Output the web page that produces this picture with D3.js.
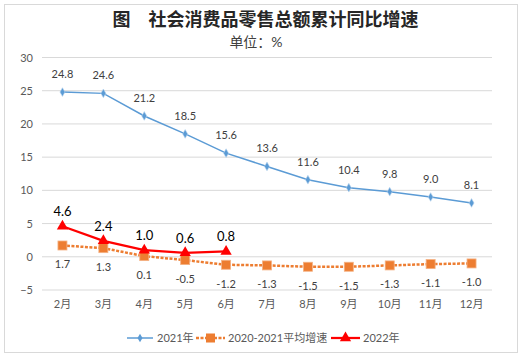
<!DOCTYPE html>
<html><head><meta charset="utf-8">
<script src="https://cdn.jsdelivr.net/npm/d3@7/dist/d3.min.js"></script>
<style>
body{margin:0;background:#fff;}
text{font-family:Lato,"Noto Sans CJK SC",sans-serif;}
</style></head>
<body><svg id="c" width="522" height="356"></svg>
<script>
const months = ["2月","3月","4月","5月","6月","7月","8月","9月","10月","11月","12月"];
const s2021 = [24.8,24.6,21.2,18.5,15.6,13.6,11.6,10.4,9.8,9.0,8.1];
const sAvg = [1.7,1.3,0.1,-0.5,-1.2,-1.3,-1.5,-1.5,-1.3,-1.1,-1.0];
const s2022 = [4.6,2.4,1.0,0.6,0.8];
const yTicks = [-5,0,5,10,15,20,25,30];
const seriesNames = ["2021年","2020-2021平均增速","2022年"];
const titleText = "图　社会消费品零售总额累计同比增速";
const unitText = "单位：%";

const svg = d3.select("#c");
svg.append("rect").attr("x",4.5).attr("y",4.5).attr("width",513).attr("height",348)
  .attr("fill","#fff").attr("stroke","#d9d9d9");

const x = d3.scaleBand().domain(months).range([42,492]);
const y = d3.scaleLinear().domain([-5,30]).range([290,57.5]);
const cx = m => x(m)+x.bandwidth()/2;

// gridlines
svg.append("g").selectAll("line").data(yTicks).join("line")
  .attr("x1",42).attr("x2",492).attr("y1",d=>y(d)).attr("y2",d=>y(d))
  .attr("stroke","#d9d9d9").attr("stroke-width",1);

// y axis labels
const ya = svg.append("g").attr("transform","translate(42,0)")
  .call(d3.axisLeft(y).tickValues(yTicks).tickSize(0).tickPadding(9));
ya.select(".domain").remove();
ya.selectAll("text").attr("fill","#595959").style("font-size","11px");

// x axis labels
const xa = svg.append("g").attr("transform","translate(0,297)")
  .call(d3.axisBottom(x).tickSize(0).tickPadding(3));
xa.select(".domain").remove();
xa.selectAll("text").attr("fill","#595959").style("font-size","11px");

// title
svg.append("text").attr("x",265.5).attr("y",26).attr("text-anchor","middle")
  .style("font-size","18px").style("font-weight","bold").attr("fill","#262626").text(titleText);
svg.append("text").attr("x",256).attr("y",47).attr("text-anchor","middle")
  .style("font-size","14px").attr("fill","#404040").text(unitText);

const line = d3.line().x((d,i)=>cx(months[i])).y(d=>y(d));

// orange avg
svg.append("path").datum(sAvg).attr("d",line).attr("fill","none")
  .attr("stroke","#ED7D31").attr("stroke-width",2.5).attr("stroke-dasharray","3,1.5");
svg.append("g").selectAll("rect").data(sAvg).join("rect")
  .attr("x",(d,i)=>cx(months[i])-4.5).attr("y",d=>y(d)-4.5).attr("width",9).attr("height",9)
  .attr("fill","#ED7D31").attr("stroke","#F4B183").attr("stroke-width",0.8);
svg.append("g").selectAll("text").data(sAvg).join("text")
  .attr("x",(d,i)=>cx(months[i])).attr("y",d=>y(d)+23).attr("text-anchor","middle")
  .style("font-size","11px").attr("fill","#404040").text(d=>d.toFixed(1));

// blue 2021
svg.append("path").datum(s2021).attr("d",line).attr("fill","none")
  .attr("stroke","#5B9BD5").attr("stroke-width",1.5);
const diamond = d3.symbol().type(d3.symbolDiamond).size(22);
svg.append("g").selectAll("path").data(s2021).join("path")
  .attr("d",diamond).attr("transform",(d,i)=>`translate(${cx(months[i])},${y(d)})`)
  .attr("fill","#5B9BD5").attr("stroke","#BDD7EE").attr("stroke-width",0.6);
svg.append("g").selectAll("text").data(s2021).join("text")
  .attr("x",(d,i)=>cx(months[i])).attr("y",d=>y(d)-14).attr("text-anchor","middle")
  .style("font-size","11px").attr("fill","#404040").text(d=>d.toFixed(1));

// red 2022
svg.append("path").datum(s2022).attr("d",line).attr("fill","none")
  .attr("stroke","#FF0000").attr("stroke-width",2.25);
const tri = d3.symbol().type(d3.symbolTriangle).size(55);
svg.append("g").selectAll("path").data(s2022).join("path")
  .attr("d",tri).attr("transform",(d,i)=>`translate(${cx(months[i])},${y(d)})`)
  .attr("fill","#FF0000");
svg.append("g").selectAll("text").data(s2022).join("text")
  .attr("x",(d,i)=>cx(months[i])).attr("y",d=>y(d)-10).attr("text-anchor","middle")
  .style("font-size","13px").attr("fill","#000").text(d=>d.toFixed(1));

// legend
const lg = svg.append("g");
const ly = 338;
const items = [
  {x1:127,x2:153,tx:157,color:"#5B9BD5",w:1.5,dash:null,mk:"d"},
  {x1:196,x2:225,tx:228,color:"#ED7D31",w:2.5,dash:"3,1.5",mk:"s"},
  {x1:331,x2:360,tx:363,color:"#FF0000",w:2.25,dash:null,mk:"t"}
];
items.forEach((it,i)=>{
  lg.append("line").attr("x1",it.x1).attr("x2",it.x2).attr("y1",ly).attr("y2",ly)
    .attr("stroke",it.color).attr("stroke-width",it.w).attr("stroke-dasharray",it.dash);
  const mx=(it.x1+it.x2)/2;
  if(it.mk==="d") lg.append("path").attr("d",diamond).attr("transform",`translate(${mx},${ly})`).attr("fill",it.color);
  if(it.mk==="s") lg.append("rect").attr("x",mx-4.5).attr("y",ly-4.5).attr("width",9).attr("height",9).attr("fill",it.color);
  if(it.mk==="t") lg.append("path").attr("d",tri).attr("transform",`translate(${mx},${ly})`).attr("fill",it.color);
  lg.append("text").attr("x",it.tx).attr("y",ly+4).style("font-size","11px").attr("fill","#595959").text(seriesNames[i]);
});
</script></body></html>
